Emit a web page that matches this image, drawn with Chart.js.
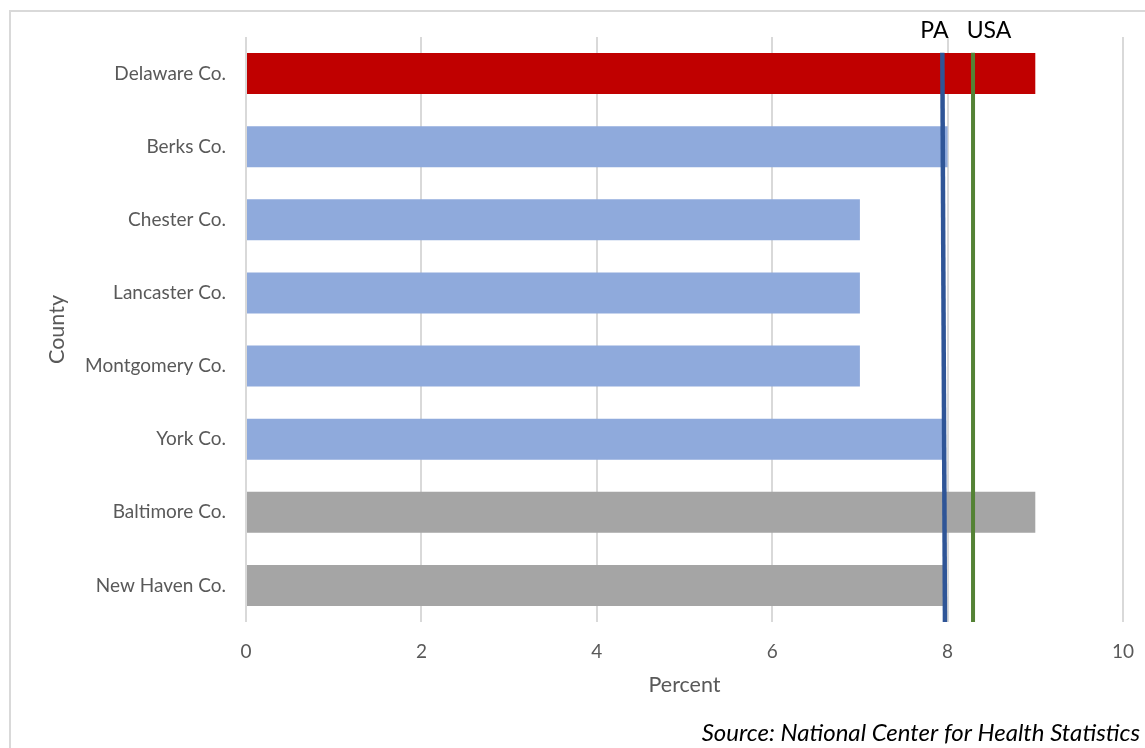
<!DOCTYPE html>
<html>
<head>
<meta charset="utf-8">
<script src="https://cdn.jsdelivr.net/npm/chart.js@4"></script>
<style>
  html, body { margin: 0; padding: 0; background: #fff; overflow: hidden; }
  #frame {
    position: absolute; left: 9px; top: 10px; width: 1200px; height: 800px;
    border: 2px solid #d9d9d9; box-sizing: border-box;
  }
  #wrap { position: absolute; left: 0; top: 0; width: 1145px; height: 748px; }
</style>
</head>
<body>
<div id="frame"></div>
<div id="wrap"><canvas id="myChart"></canvas></div>
<script>
// counties, top to bottom
const counties = ['Delaware Co.', 'Berks Co.', 'Chester Co.', 'Lancaster Co.', 'Montgomery Co.', 'York Co.', 'Baltimore Co.', 'New Haven Co.'];
const percents = [9.0, 8.0, 7.0, 7.0, 7.0, 7.95, 9.0, 7.95];
const barColors = ['#C00000', '#8FAADC', '#8FAADC', '#8FAADC', '#8FAADC', '#8FAADC', '#A5A5A5', '#A5A5A5'];

// benchmark lines (x at top, x at bottom)
const paLine = [7.94, 7.97];
const usaLine = [8.29, 8.29];
const lineSpan = [0.973, 0]; // share of plot height, top then bottom

const xTicks = [0, 2, 4, 6, 8, 10];
const sourceText = 'Source: National Center for Health Statistics';

const fontFamily = 'Lato, "Open Sans", sans-serif';

const toPoints = xs => xs.map((x, i) => ({ x: x, y: lineSpan[i] }));

// PA / USA captions and the source note
const labelPlugin = {
    id: 'refLabels',
    afterDraw(chart) {
        const ctx = chart.ctx;
        const xs = chart.scales.x;
        ctx.save();
        ctx.fillStyle = '#000';
        ctx.textBaseline = 'middle';
        ctx.textAlign = 'center';
        ctx.font = '23px ' + fontFamily;
        ctx.fillText('PA', xs.getPixelForValue(paLine[0]) - 8, 31);
        ctx.fillText('USA', xs.getPixelForValue(usaLine[0]) + 16, 31);
        ctx.font = 'italic 24px ' + fontFamily;
        ctx.textAlign = 'right';
        ctx.fillText(sourceText, 1140, 733);
        ctx.restore();
    }
};

const ctx = document.getElementById('myChart').getContext('2d');
new Chart(ctx, {
    data: {
        labels: counties,
        datasets: [{
            type: 'bar',
            label: 'Percent',
            indexAxis: 'y',
            xAxisID: 'x',
            yAxisID: 'y',
            data: percents,
            backgroundColor: barColors,
            categoryPercentage: 1,
            barPercentage: 0.56,
            order: 2
        }, {
            type: 'line',
            label: 'PA',
            xAxisID: 'x',
            yAxisID: 'y2',
            data: toPoints(paLine),
            borderColor: '#2F5597',
            borderWidth: 4.5,
            pointRadius: 0,
            order: 1
        }, {
            type: 'line',
            label: 'USA',
            xAxisID: 'x',
            yAxisID: 'y2',
            data: toPoints(usaLine),
            borderColor: '#548235',
            borderWidth: 4,
            pointRadius: 0,
            order: 1
        }]
    },
    options: {
        responsive: true,
        maintainAspectRatio: false,
        animation: false,
        layout: { padding: { top: 37, right: 22, left: 0, bottom: 0 } },
        plugins: { legend: { display: false }, tooltip: { enabled: false } },
        scales: {
            x: {
                type: 'linear',
                position: 'bottom',
                min: 0,
                max: 10,
                offset: false,
                afterBuildTicks: scale => { scale.ticks = xTicks.map(v => ({ value: v })); },
                afterFit: scale => { scale.height = 126; },
                grid: { color: '#d9d9d9', lineWidth: 2, drawTicks: true, tickLength: 18, tickColor: 'rgba(0,0,0,0)', offset: false },
                border: { display: false },
                ticks: { padding: 0, color: '#595959', font: { family: fontFamily, size: 19 } },
                title: {
                    display: true, text: 'Percent', color: '#595959',
                    font: { family: fontFamily, size: 21.5 },
                    padding: { top: 0, bottom: 50 }
                }
            },
            y: {
                type: 'category',
                position: 'left',
                offset: true,
                afterFit: scale => { scale.width = 246; },
                grid: { display: false },
                border: { display: false },
                ticks: { padding: 12, color: '#595959', font: { family: fontFamily, size: 19 } },
                title: {
                    display: true, text: 'County', color: '#595959',
                    font: { family: fontFamily, size: 21.5 },
                    padding: { top: 44, bottom: 0 }
                }
            },
            y2: {
                type: 'linear',
                position: 'right',
                display: false,
                offset: false,
                min: 0,
                max: 1
            }
        }
    },
    plugins: [labelPlugin]
});
</script>
</body>
</html>
